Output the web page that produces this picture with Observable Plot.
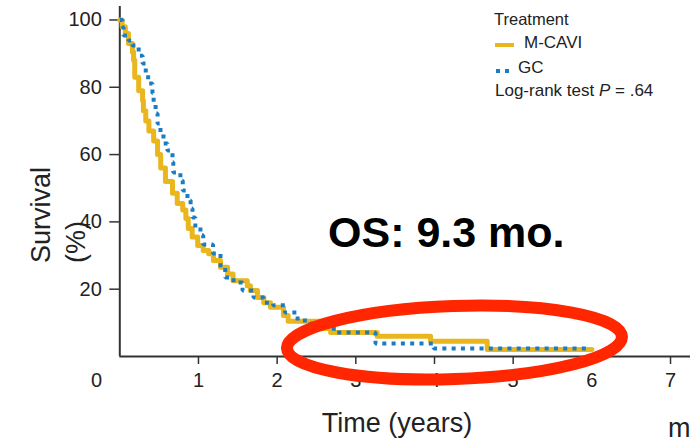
<!DOCTYPE html>
<html><head><meta charset="utf-8">
<script src="https://cdn.jsdelivr.net/npm/d3@7"></script>
<script src="https://cdn.jsdelivr.net/npm/@observablehq/plot@0.6"></script>
<style>
body{margin:0;background:#fff}
#chart{position:relative;width:690px;height:441px;overflow:hidden}
</style>
</head><body><div id="chart"></div>
<script>
// ---- data ----
const mcaviTime = [0,0.03,0.07,0.11,0.16,0.175,0.19,0.24,0.29,0.30,0.33,0.37,0.43,0.48,0.52,0.58,0.67,0.73,0.80,0.84,0.87,0.92,0.99,1.06,1.13,1.19,1.28,1.37,1.44,1.62,1.66,1.75,1.83,1.915,2.08,2.14,2.55,2.68,3.27,3.95,4.67,6.0];
const mcaviSurv = [100,98,96,93,90.5,88,83,79,76,73,70,67,64,60,56,52,48.5,45.5,43.5,41,38,35.5,33,31.5,30.5,28.5,26.5,24.5,22.5,21,19.6,17.5,16,14.6,12.2,10.5,8.3,7.1,6.0,4.5,2.1,2.1];
const gcTime = [0,0.034,0.047,0.11,0.16,0.24,0.29,0.33,0.36,0.415,0.43,0.455,0.48,0.517,0.555,0.606,0.67,0.68,0.77,0.80,0.86,0.90,0.924,0.96,1.025,1.06,1.185,1.28,1.34,1.445,1.56,1.70,1.83,1.95,2.10,2.26,2.42,2.72,3.25,3.99,5.94];
const gcSurv = [100,97.8,95.4,93.9,92.4,89.4,87.1,84.1,81.1,78.2,75.2,72.2,69.2,66.3,63.3,61.2,57.7,54.7,52.3,49.3,46.4,44,41.3,38.3,36,33.3,30.6,26.4,23.5,22,19.6,17.5,16,15.2,13.1,10.7,9.8,7.1,3.9,2.4,2.4];
const seriesNames = ["M-CAVI", "GC"];
const xTicks = [1,2,3,4,5,6,7];
const xZeroTick = [0];
const yTicks = [20,40,60,80,100];
const legendTitle = "Treatment";
const pText = ".64";
const annotationText = "OS: 9.3 mo.";
// highlight ellipse in data units (center time/survival, radii)
const ellipseT = 4.26, ellipseS = 4.0, ellipseRT = 2.13, ellipseRS = 10.85;

const gold = "#E9B61D", blue = "#1A7DC3", red = "#FF2600";
const font = "Liberation Sans, Arial, Helvetica, sans-serif";

const mcavi = mcaviTime.map((t,i)=>({t, s:mcaviSurv[i], arm:seriesNames[0]}));
const gc = gcTime.map((t,i)=>({t, s:gcSurv[i], arm:seriesNames[1]}));

const plot = Plot.plot({
  width: 690, height: 441,
  marginLeft: 119.3, marginRight: 0, marginTop: 6, marginBottom: 85,
  style: {fontFamily: font, color: "#222", background: "#fff", overflow: "visible"},
  x: {domain: [0, 7.254]},
  y: {domain: [0, 104]},
  marks: [
    Plot.axisY({ticks: yTicks, tickSize: 10, tickPadding: 8, fontSize: 20, label: null, stroke: "#333", strokeWidth: 1.5}),
    Plot.axisX({ticks: xTicks, tickSize: 8, tickPadding: 8, fontSize: 20, label: null, stroke: "#333", strokeWidth: 1.5}),
    Plot.axisX({ticks: xZeroTick, tickSize: 0, tickPadding: 16, dx: -23.3, fontSize: 20, label: null}),
    Plot.ruleX([0], {stroke: "#333", strokeWidth: 2}),
    Plot.ruleY([0], {stroke: "#333", strokeWidth: 2}),
    Plot.line(mcavi, {x: "t", y: "s", curve: "step-after", stroke: gold, strokeWidth: 5}),
    Plot.line(gc, {x: "t", y: "s", curve: "step-after", stroke: blue, strokeWidth: 4, strokeDasharray: "4,5.3", strokeLinecap: "butt", strokeLinejoin: "miter"})
  ]
});
document.getElementById("chart").appendChild(plot);

const svg = d3.select(plot);
const xs = plot.scale("x"), ys = plot.scale("y");

function txt(s, x, y, size, opts={}) {
  const t = svg.append("text").attr("x", x).attr("y", y)
    .attr("font-family", font).attr("font-size", size).attr("fill", opts.fill || "#222")
    .attr("text-anchor", opts.anchor || "start");
  if (opts.weight) t.attr("font-weight", opts.weight);
  if (opts.transform) t.attr("transform", opts.transform).attr("x", 0).attr("y", 0);
  t.text(s);
  return t;
}

// axis titles
txt("Survival", 0, 0, 27, {transform: "translate(50,263) rotate(-90)"});
txt("(%)", 0, 0, 27, {transform: "translate(85,263) rotate(-90)"});
txt("Time (years)", 397, 432, 27, {anchor: "middle"});
txt("mo", 668, 437, 27);

// legend
txt(legendTitle, 494, 25, 16.5);
svg.append("line").attr("x1", 495).attr("x2", 514).attr("y1", 45).attr("y2", 45).attr("stroke", gold).attr("stroke-width", 4);
txt(seriesNames[0], 524, 48, 17);
svg.append("line").attr("x1", 496).attr("x2", 511).attr("y1", 71).attr("y2", 71).attr("stroke", blue).attr("stroke-width", 4).attr("stroke-dasharray", "4,5");
txt(seriesNames[1], 518, 73, 17);
const lr = txt("Log-rank test ", 495, 96, 17);
lr.append("tspan").attr("font-style", "italic").text("P");
lr.append("tspan").text(" = " + pText);

// annotation
txt(annotationText, 328, 247, 43, {weight: "bold", fill: "#000"});

const cx = xs.apply(ellipseT), cy = ys.apply(ellipseS);
svg.append("ellipse")
  .attr("cx", cx).attr("cy", cy)
  .attr("rx", xs.apply(ellipseT + ellipseRT) - cx)
  .attr("ry", ys.apply(0) - ys.apply(ellipseRS))
  .attr("transform", `rotate(-2,${cx},${cy})`)
  .attr("fill", "none").attr("stroke", red).attr("stroke-width", 12);
</script>
</body></html>
